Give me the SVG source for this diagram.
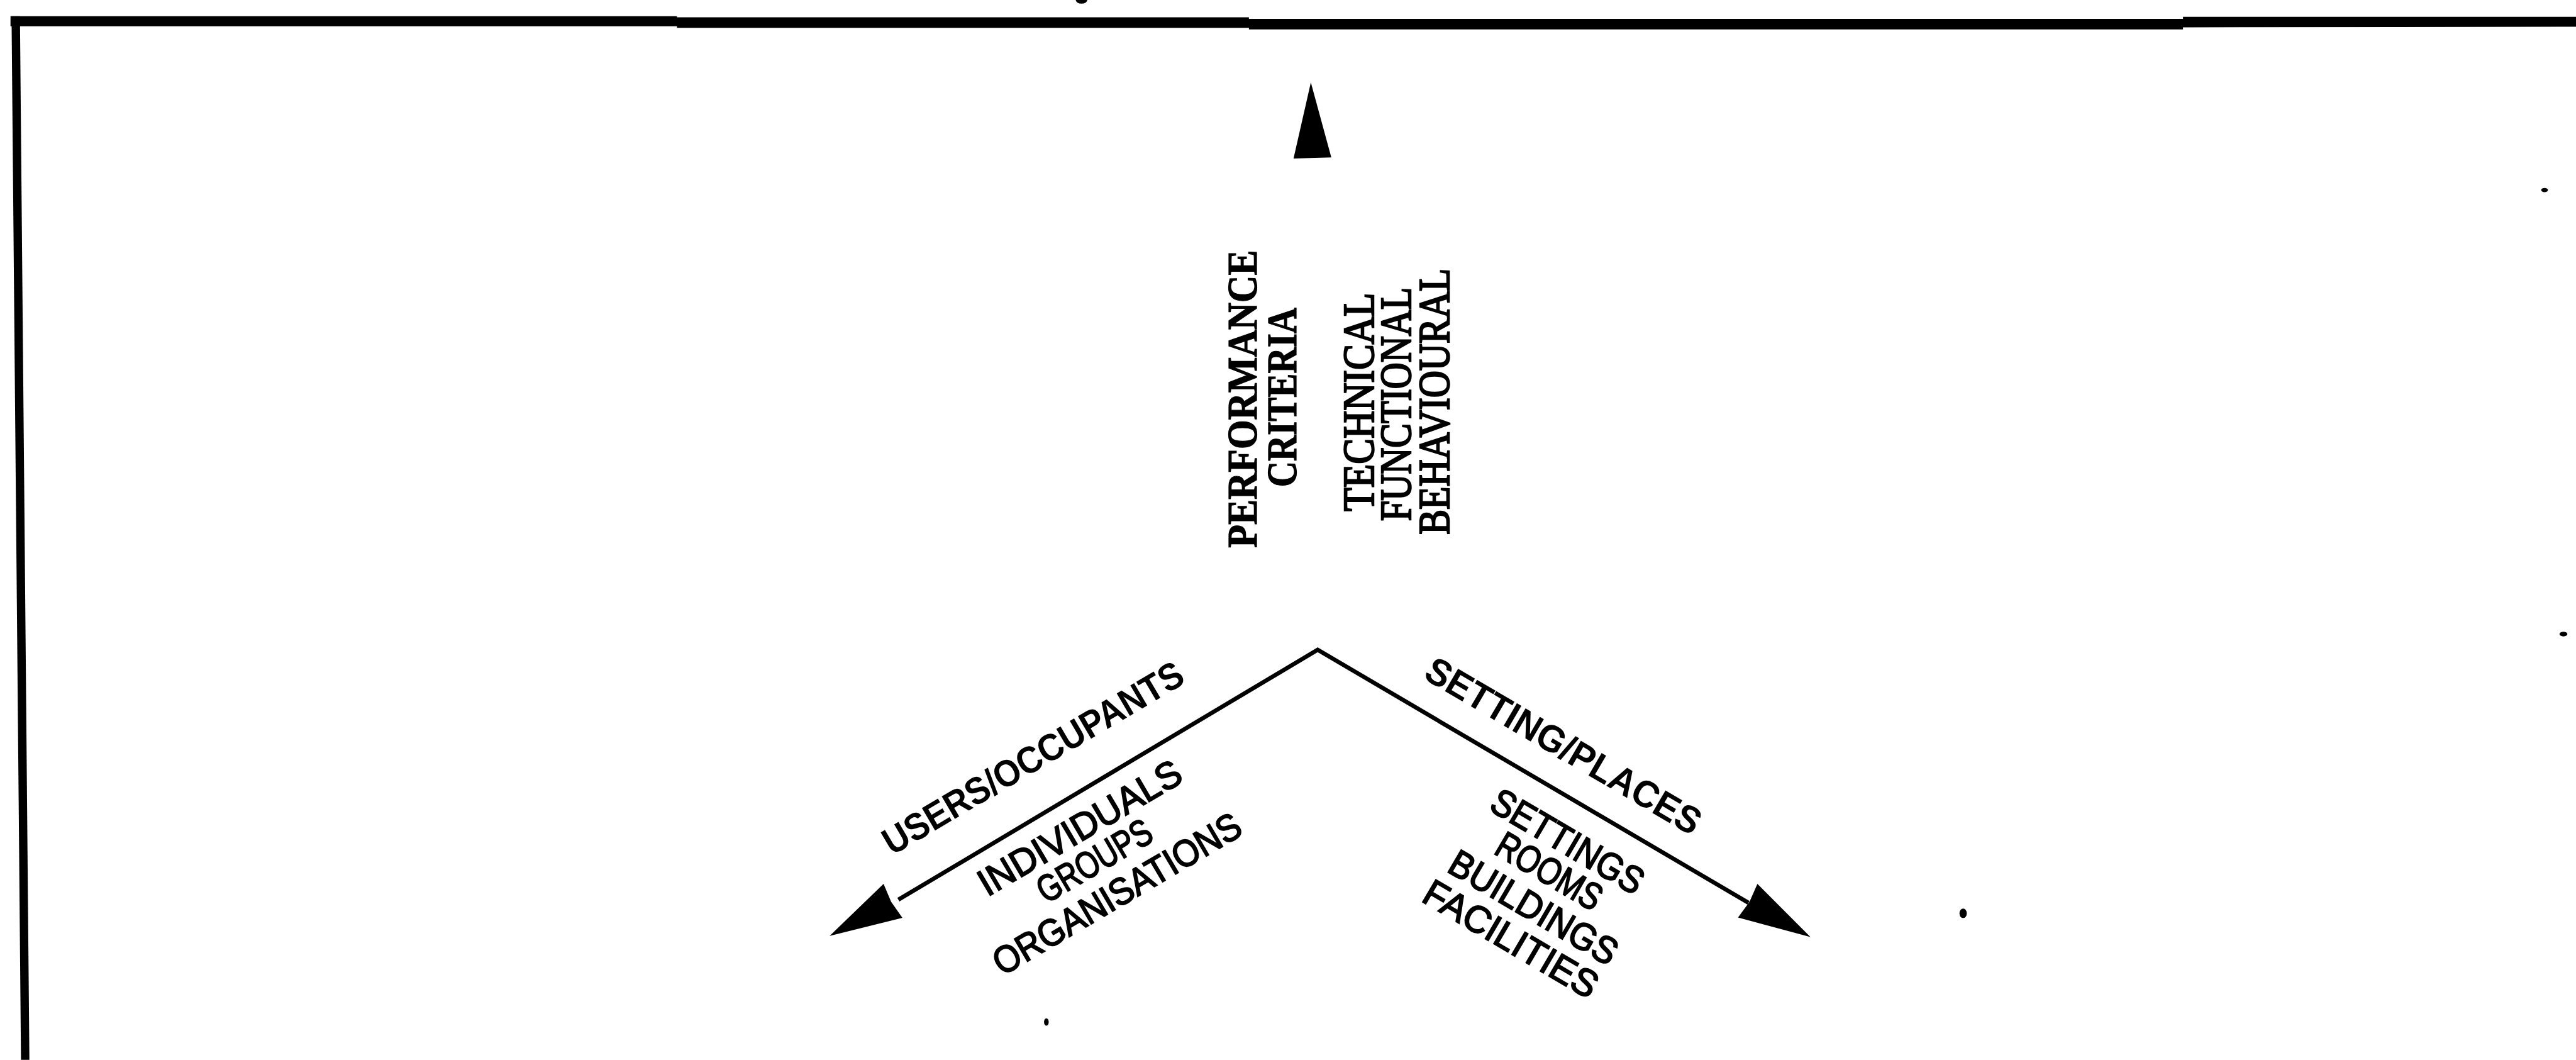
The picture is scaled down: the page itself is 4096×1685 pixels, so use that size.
<svg xmlns="http://www.w3.org/2000/svg" xmlns:xlink="http://www.w3.org/1999/xlink" width="4096" height="1685" viewBox="0 0 4096 1685">
  <style>
    .frame { fill: #000; }
    .axis { fill: none; stroke: #000; stroke-width: 8; stroke-linejoin: miter; stroke-linecap: butt; }
    .head { fill: #000; }
    .speck { fill: #000; }
    .title-v { font-family: "Liberation Serif", "Times New Roman", serif; font-weight: bold; font-size: 80px; fill: #000; stroke: #000; stroke-width: 1.5; }
    .item-v { font-family: "Liberation Serif", "Times New Roman", serif; font-size: 84px; fill: #000; stroke: #000; stroke-width: 3; }
    .title-d { font-family: "Liberation Sans", Arial, sans-serif; font-weight: bold; font-size: 72px; fill: #000; }
    .item-d { font-family: "Liberation Sans", Arial, sans-serif; font-size: 72px; fill: #000; stroke: #000; stroke-width: 2.5; }
  </style>
  <defs>
    <!-- arrowhead pointing along +x, tip at the origin -->
    <path id="arrowhead" d="M0,0 L-138,-37 L-134,0 L-138,37 Z"/>
  </defs>
  <rect x="0" y="0" width="4096" height="1685" fill="#fff"/>
  <g transform="scale(0.8344)">
    <!-- page frame: heavy top rule and left rule -->
    <g id="frame">
      <polygon class="frame" points="20,31 1290,31 1290,33 2380,33 2380,36 4160,36 4160,32 4909,32 4909,51 4160,52 4160,56 2380,56 2380,53 1290,53 1290,50 20,50"/>
      <polygon class="frame" points="22,31 38,31 56,2019 40,2019"/>
      <ellipse class="speck" cx="2061" cy="0" rx="11" ry="7"/>
    </g>

    <!-- the three axes -->
    <g id="connectors">
      <polyline class="axis" points="1712,1714 2511,1238 3332,1720"/>
      <use xlink:href="#arrowhead" class="head" transform="translate(1581,1783) rotate(151)"/>
      <use xlink:href="#arrowhead" class="head" transform="translate(3450,1785) rotate(30)"/>
      <polygon class="head" points="2498,157 2537,300 2465,302"/>
    </g>

    <!-- vertical axis labels -->
    <g id="performance">
      <text class="title-v" text-anchor="middle" transform="translate(2395,760) rotate(-90)" textLength="567" lengthAdjust="spacingAndGlyphs">PERFORMANCE</text>
      <text class="title-v" text-anchor="middle" transform="translate(2470,757) rotate(-90)" textLength="342" lengthAdjust="spacingAndGlyphs">CRITERIA</text>
      <text class="item-v" text-anchor="middle" transform="translate(2617,766) rotate(-90)" textLength="416" lengthAdjust="spacingAndGlyphs">TECHNICAL</text>
      <text class="item-v" text-anchor="middle" transform="translate(2688,770) rotate(-90)" textLength="445" lengthAdjust="spacingAndGlyphs">FUNCTIONAL</text>
      <text class="item-v" text-anchor="middle" transform="translate(2761,765) rotate(-90)" textLength="507" lengthAdjust="spacingAndGlyphs">BEHAVIOURAL</text>
    </g>

    <!-- left axis labels -->
    <g id="users">
      <text class="title-d" text-anchor="middle" transform="translate(1981,1465) rotate(-30.5)" textLength="652" lengthAdjust="spacingAndGlyphs">USERS/OCCUPANTS</text>
      <text class="item-d" text-anchor="middle" transform="translate(2070,1598) rotate(-30.5)" textLength="437" lengthAdjust="spacingAndGlyphs">INDIVIDUALS</text>
      <text class="item-d" text-anchor="middle" transform="translate(2098,1661) rotate(-30.5)" textLength="242" lengthAdjust="spacingAndGlyphs">GROUPS</text>
      <text class="item-d" text-anchor="middle" transform="translate(2141,1724) rotate(-30.5)" textLength="536" lengthAdjust="spacingAndGlyphs">ORGANISATIONS</text>
    </g>

    <!-- right axis labels -->
    <g id="settings">
      <text class="title-d" text-anchor="middle" transform="translate(2967,1442) rotate(30.4)" textLength="596" lengthAdjust="spacingAndGlyphs">SETTING/PLACES</text>
      <text class="item-d" text-anchor="middle" transform="translate(2975,1624) rotate(30.4)" textLength="325" lengthAdjust="spacingAndGlyphs">SETTINGS</text>
      <text class="item-d" text-anchor="middle" transform="translate(2940,1681) rotate(30.4)" textLength="222" lengthAdjust="spacingAndGlyphs">ROOMS</text>
      <text class="item-d" text-anchor="middle" transform="translate(2910,1750) rotate(30.4)" textLength="360" lengthAdjust="spacingAndGlyphs">BUILDINGS</text>
      <text class="item-d" text-anchor="middle" transform="translate(2867,1810) rotate(30.4)" textLength="373" lengthAdjust="spacingAndGlyphs">FACILITIES</text>
    </g>

    <!-- stray specks on the sheet -->
    <g id="specks">
      <ellipse class="speck" cx="4849" cy="362" rx="6.5" ry="4"/>
      <ellipse class="speck" cx="4885" cy="1208" rx="7.5" ry="4.5"/>
      <ellipse class="speck" cx="3741" cy="1740" rx="7" ry="9"/>
      <ellipse class="speck" cx="1994" cy="1947" rx="4.5" ry="7"/>
    </g>
  </g>
</svg>
